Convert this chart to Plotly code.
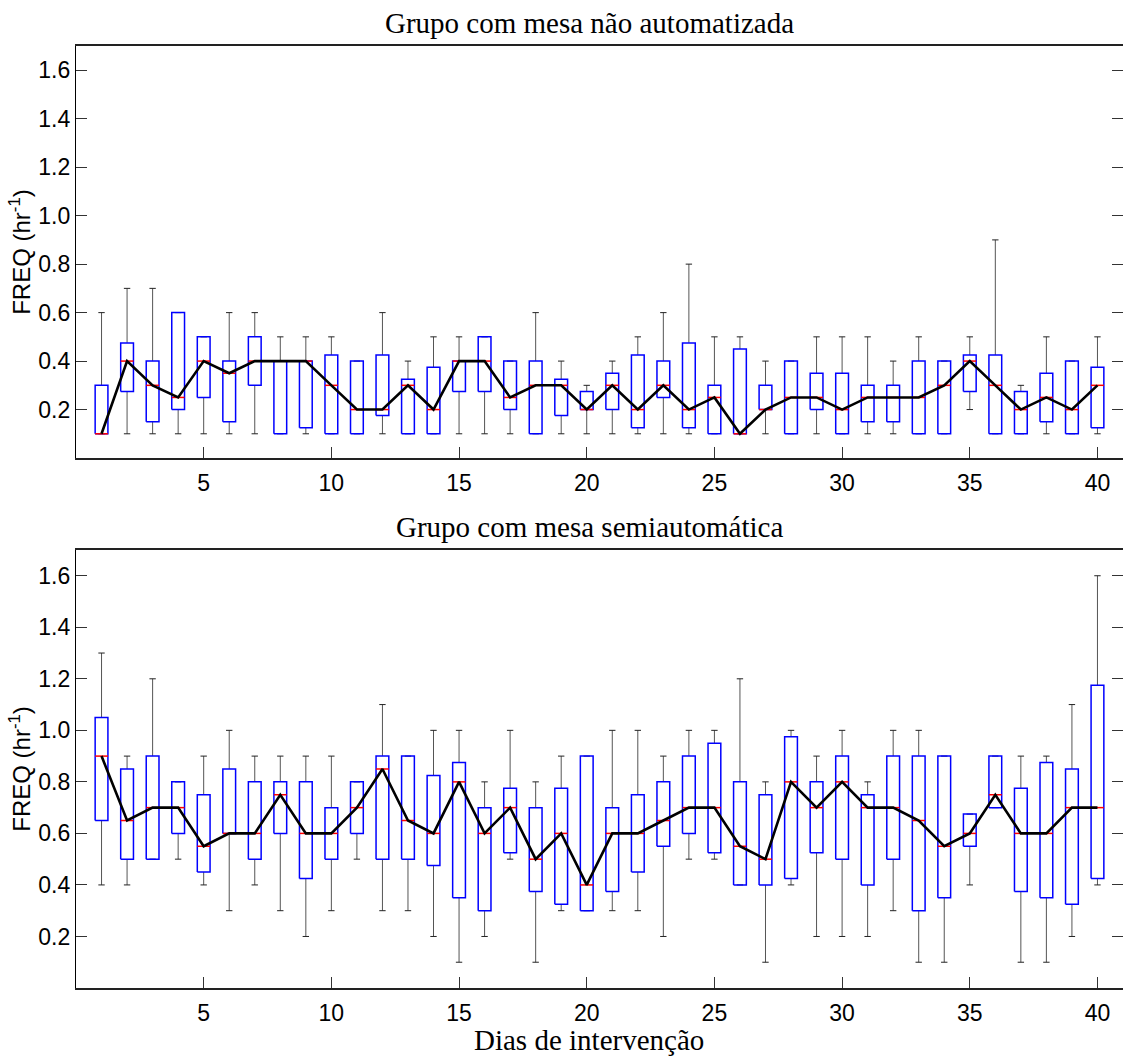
import plotly.graph_objects as go

# ---------------- data ----------------
days = list(range(1, 41))

# Grupo com mesa não automatizada
g1_low  = [0.1]*34 + [0.2] + [0.1]*5
g1_q1   = [0.1, 0.275, 0.15, 0.2, 0.25, 0.15, 0.3, 0.1, 0.125, 0.1,
           0.1, 0.175, 0.1, 0.1, 0.275, 0.275, 0.2, 0.1, 0.175, 0.2,
           0.2, 0.125, 0.25, 0.125, 0.1, 0.1, 0.2, 0.1, 0.2, 0.1,
           0.15, 0.15, 0.1, 0.1, 0.275, 0.1, 0.1, 0.15, 0.1, 0.125]
g1_med  = [0.1, 0.4, 0.3, 0.25, 0.4, 0.35, 0.4, 0.4, 0.4, 0.3,
           0.2, 0.2, 0.3, 0.2, 0.4, 0.4, 0.25, 0.3, 0.3, 0.2,
           0.3, 0.2, 0.3, 0.2, 0.25, 0.1, 0.2, 0.25, 0.25, 0.2,
           0.25, 0.25, 0.25, 0.3, 0.4, 0.3, 0.2, 0.25, 0.2, 0.3]
g1_q3   = [0.3, 0.475, 0.4, 0.6, 0.5, 0.4, 0.5, 0.4, 0.4, 0.425,
           0.4, 0.425, 0.325, 0.375, 0.4, 0.5, 0.4, 0.4, 0.325, 0.275,
           0.35, 0.425, 0.4, 0.475, 0.3, 0.45, 0.3, 0.4, 0.35, 0.35,
           0.3, 0.3, 0.4, 0.4, 0.425, 0.425, 0.275, 0.35, 0.4, 0.375]
g1_high = [0.6, 0.7, 0.7, 0.6, 0.5, 0.6, 0.6, 0.5, 0.5, 0.5,
           0.4, 0.6, 0.4, 0.5, 0.5, 0.5, 0.4, 0.6, 0.4, 0.3,
           0.4, 0.5, 0.6, 0.8, 0.5, 0.5, 0.4, 0.4, 0.5, 0.5,
           0.5, 0.4, 0.5, 0.4, 0.5, 0.9, 0.3, 0.5, 0.4, 0.5]

# Grupo com mesa semiautomática
g2_low  = [0.4, 0.4, 0.5, 0.5, 0.4, 0.3, 0.4, 0.3, 0.2, 0.3,
           0.5, 0.3, 0.3, 0.2, 0.1, 0.2, 0.5, 0.1, 0.3, 0.3,
           0.3, 0.3, 0.2, 0.5, 0.5, 0.4, 0.1, 0.4, 0.2, 0.2,
           0.2, 0.3, 0.1, 0.1, 0.4, 0.7, 0.1, 0.1, 0.2, 0.4]
g2_q1   = [0.65, 0.5, 0.5, 0.6, 0.45, 0.6, 0.5, 0.6, 0.425, 0.5,
           0.6, 0.5, 0.5, 0.475, 0.35, 0.3, 0.525, 0.375, 0.325, 0.3,
           0.375, 0.45, 0.55, 0.6, 0.525, 0.4, 0.4, 0.425, 0.525, 0.5,
           0.4, 0.5, 0.3, 0.35, 0.55, 0.7, 0.375, 0.35, 0.325, 0.425]
g2_med  = [0.9, 0.65, 0.7, 0.7, 0.55, 0.6, 0.6, 0.75, 0.6, 0.6,
           0.7, 0.85, 0.65, 0.6, 0.8, 0.6, 0.7, 0.5, 0.6, 0.4,
           0.6, 0.6, 0.65, 0.7, 0.7, 0.55, 0.5, 0.8, 0.7, 0.8,
           0.7, 0.7, 0.65, 0.55, 0.6, 0.75, 0.6, 0.6, 0.7, 0.7]
g2_q3   = [1.05, 0.85, 0.9, 0.8, 0.75, 0.85, 0.8, 0.8, 0.8, 0.7,
           0.8, 0.9, 0.9, 0.825, 0.875, 0.7, 0.775, 0.7, 0.775, 0.9,
           0.7, 0.75, 0.8, 0.9, 0.95, 0.8, 0.75, 0.975, 0.8, 0.9,
           0.75, 0.9, 0.9, 0.9, 0.675, 0.9, 0.775, 0.875, 0.85, 1.175]
g2_high = [1.3, 0.9, 1.2, 0.8, 0.9, 1.0, 0.9, 0.9, 0.9, 0.9,
           0.8, 1.1, 0.9, 1.0, 1.0, 0.8, 1.0, 0.8, 0.9, 0.9,
           1.0, 1.0, 0.9, 1.0, 1.0, 1.2, 0.8, 1.0, 0.9, 1.0,
           0.8, 1.0, 1.0, 0.9, 0.675, 0.9, 0.9, 0.9, 1.1, 1.6]

titles = ["Grupo com mesa não automatizada", "Grupo com mesa semiautomática"]
x_title = "Dias de intervenção"
y_title = "FREQ (hr<sup>-1</sup>)"
x_tickvals = [0, 5, 10, 15, 20, 25, 30, 35, 40]
x_ticktext = ["", "5", "10", "15", "20", "25", "30", "35", "40"]
y_tickvals = [0.2, 0.4, 0.6, 0.8, 1.0, 1.2, 1.4, 1.6]
y_ticktext = ["0.2", "0.4", "0.6", "0.8", "1.0", "1.2", "1.4", "1.6"]

# ---------------- styling ----------------
BOX_HW = 0.25
CAP_HW = 0.125
SANS = "Liberation Sans, Arial, sans-serif"
SERIF = "Liberation Serif, Times New Roman, serif"

fig = go.Figure()


def add_group(low, q1, med, q3, high, xa, ya):
    wx, wy, cx, cy, bx, by, mx, my = [], [], [], [], [], [], [], []
    for d, lo, a, m, b, hi in zip(days, low, q1, med, q3, high):
        wx += [d, d, None, d, d, None]
        wy += [lo, a, None, b, hi, None]
        cx += [d - CAP_HW, d + CAP_HW, None, d - CAP_HW, d + CAP_HW, None]
        cy += [lo, lo, None, hi, hi, None]
        bx += [d - BOX_HW, d + BOX_HW, d + BOX_HW, d - BOX_HW, d - BOX_HW, None]
        by += [a, a, b, b, a, None]
        mx += [d - BOX_HW, d + BOX_HW, None]
        my += [m, m, None]
    common = dict(xaxis=xa, yaxis=ya, mode="lines", hoverinfo="skip", showlegend=False)
    fig.add_trace(go.Scatter(x=wx, y=wy, line=dict(color="#555555", width=1), **common))
    fig.add_trace(go.Scatter(x=cx, y=cy, line=dict(color="#222222", width=1), **common))
    fig.add_trace(go.Scatter(x=bx, y=by, line=dict(color="#0000ff", width=1.5), **common))
    fig.add_trace(go.Scatter(x=mx, y=my, line=dict(color="#ff0000", width=1.5), **common))
    fig.add_trace(go.Scatter(x=days, y=med, xaxis=xa, yaxis=ya, mode="lines",
                             line=dict(color="#000000", width=2.6), showlegend=False,
                             name="Mediana"))


add_group(g1_low, g1_q1, g1_med, g1_q3, g1_high, "x", "y")
add_group(g2_low, g2_q1, g2_med, g2_q3, g2_high, "x2", "y2")

xcommon = dict(range=[0, 41], tickvals=x_tickvals, ticktext=x_ticktext,
               ticks="inside", ticklen=11, tickwidth=1, tickcolor="#333333",
               showline=True, linecolor="#222222", linewidth=1.5, mirror=True,
               showgrid=False, zeroline=False, automargin=False,
               tickfont=dict(family=SANS, size=23, color="#000000"),
               ticklabelstandoff=4)
ycommon = dict(range=[0, 1.7], tickvals=y_tickvals, ticktext=y_ticktext,
               ticks="inside", ticklen=11, tickwidth=1, tickcolor="#333333",
               showline=True, linecolor="#000000", linewidth=1.2, mirror="ticks",
               showgrid=False, zeroline=False, automargin=False,
               tickfont=dict(family=SANS, size=23, color="#000000"),
               title=dict(text=y_title, font=dict(family=SANS, size=24, color="#000000"),
                          standoff=0))

fig.update_layout(
    width=1123, height=1062,
    paper_bgcolor="white", plot_bgcolor="white",
    margin=dict(l=76, r=0, t=46, b=74),
    xaxis=dict(domain=[0, 1], anchor="y", **xcommon),
    yaxis=dict(domain=[0.5626, 1.0], anchor="x", **ycommon),
    xaxis2=dict(domain=[0, 1], anchor="y2", **xcommon),
    yaxis2=dict(domain=[0.0, 0.465], anchor="x2", **ycommon),
    annotations=[
        dict(text=titles[0], x=0.49, y=1.0, xref="paper", yref="paper", xanchor="center",
             yanchor="bottom", yshift=5, showarrow=False,
             font=dict(family=SERIF, size=29, color="#000000")),
        dict(text=titles[1], x=0.49, y=0.465, xref="paper", yref="paper", xanchor="center",
             yanchor="bottom", yshift=5, showarrow=False,
             font=dict(family=SERIF, size=29, color="#000000")),
        dict(text=x_title, x=0.49, y=0.0, xref="paper", yref="paper", xanchor="center",
             yanchor="middle", yshift=-52, showarrow=False,
             font=dict(family=SERIF, size=29, color="#000000")),
    ],
)

fig.write_html("out.html", config={"displayModeBar": False},
               post_script="document.body.style.margin='0';document.body.style.overflow='hidden';")
